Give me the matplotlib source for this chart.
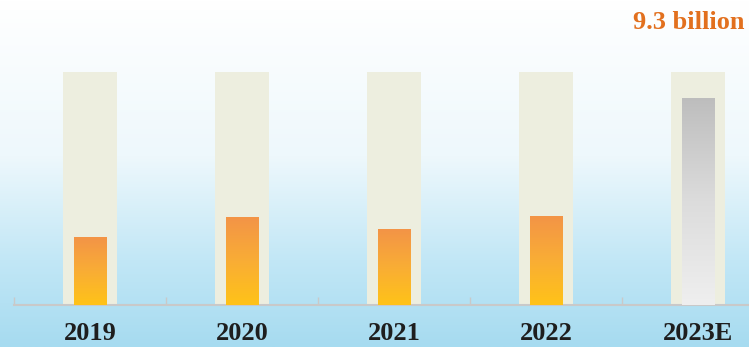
import numpy as np
import matplotlib
matplotlib.use("Agg")
import matplotlib.pyplot as plt
from matplotlib.colors import LinearSegmentedColormap

years = ["2019", "2020", "2021", "2022", "2023E"]
values = [3.05, 3.95, 3.4, 4.0, 9.3]   # billion
track_max = 10.45
label_text = "9.3 billion"

W, H = 749, 347
fig = plt.figure(figsize=(W / 100, H / 100), dpi=100)

# background: white fading to light blue at the bottom
bg = fig.add_axes([0, 0, 1, 1])
bg_cmap = LinearSegmentedColormap.from_list(
    "bg", [(0, "#a6dbf0"), (0.25, "#c2e7f6"), (0.55, "#eef8fc"), (1, "#ffffff")])
grad = np.linspace(0, 1, 256).reshape(-1, 1)
bg.imshow(grad, cmap=bg_cmap, aspect="auto", origin="lower", extent=[0, 1, 0, 1])
bg.axis("off")

ax = fig.add_axes([14 / W, 1 - 305 / H, 1 - 14 / W, 305 / H])
ax.patch.set_alpha(0)
x = np.arange(len(years))
ax.set_ylim(0, 305 / 22.26)

# pale tracks behind the bars
ax.bar(x, [track_max] * len(x), width=0.355, color="#edeedf", zorder=1)

orange = LinearSegmentedColormap.from_list("or", ["#ffc318", "#f9ad35", "#f39447"])
grey = LinearSegmentedColormap.from_list("gr", ["#efefef", "#dcdcdc", "#bdbdbd"])
bars = ax.bar(x, values, width=0.217, color="none", zorder=2)
for i, b in enumerate(bars):
    cm = grey if i == len(bars) - 1 else orange
    x0, w, h = b.get_x(), b.get_width(), b.get_height()
    im = ax.imshow(grad, cmap=cm, aspect="auto", origin="lower",
                   extent=[x0, x0 + w, 0, h], zorder=3)
    im.set_clip_path(b)

ax.text(x[-1] - 0.06, 12.7, label_text, ha="center", va="center",
        fontsize=19, fontweight="bold", family="Liberation Serif", color="#e2701e")

for s in ["top", "right", "left"]:
    ax.spines[s].set_visible(False)
ax.spines["bottom"].set_color("#c9c9c9")
ax.spines["bottom"].set_linewidth(1.5)
ax.set_yticks([])
ax.set_xticks(x)
ax.set_xticklabels(years, fontsize=19, fontweight="bold", family="Liberation Serif", color="#1e1e1e")
ax.tick_params(axis="x", which="major", length=0, pad=12)
ax.set_xticks(np.arange(-0.5, len(x) - 1, 1.0), minor=True)
ax.tick_params(axis="x", which="minor", direction="in", length=6, color="#c9c9c9", width=1)
ax.set_xlim(-0.5, (W - 90) / 152)

fig.savefig("out.png", dpi=100)
